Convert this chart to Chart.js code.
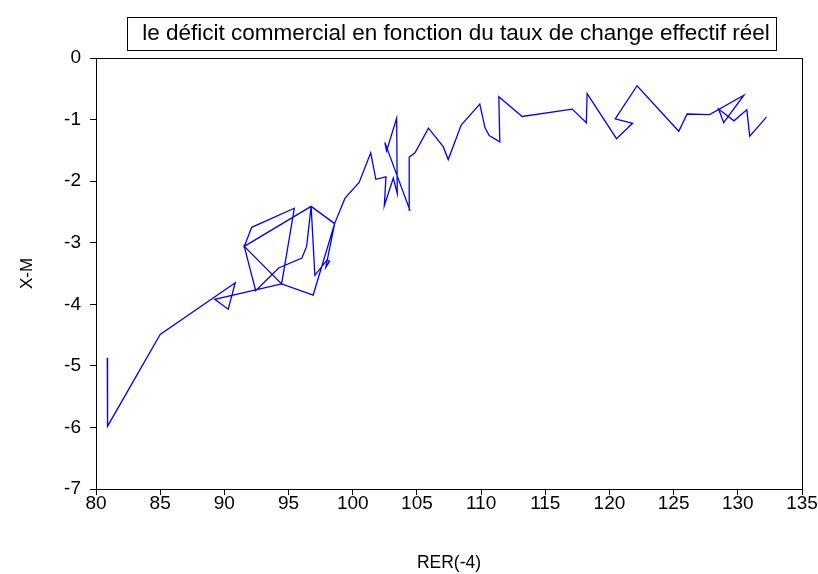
<!DOCTYPE html>
<html>
<head>
<meta charset="utf-8">
<script src="https://cdn.jsdelivr.net/npm/chart.js@4.4.0/dist/chart.umd.min.js"></script>
<style>
  body { margin: 0; background: #fff; }
  #wrap { width: 818px; height: 574px; }
</style>
</head>
<body>
<div id="wrap"><canvas id="chart" width="818" height="574"></canvas></div>
<script>
// RER(-4) values (x) and X-M values (y), in time order
const rer = [80.88, 80.9, 85.0, 90.85, 90.3, 89.25, 94.46, 96.92, 98.59, 96.76,
             91.55, 92.13, 95.45, 94.46, 91.55, 92.44, 94.23, 96.04, 96.41, 96.76,
             97.05, 98.0, 98.2, 97.9, 98.59, 99.39, 100.5, 101.4, 101.8, 102.59,
             102.46, 103.16, 103.47, 103.42, 102.64, 102.5, 104.45, 104.4, 104.85, 105.9,
             107.05, 107.44, 108.45, 109.9, 110.3, 110.63, 111.46, 111.38, 113.2, 117.1,
             118.2, 118.26, 120.55, 121.8, 120.45, 122.15, 125.4, 126.05, 127.8, 130.47,
             128.9, 128.5, 129.7, 130.7, 130.93, 132.23];
const xm = [-4.87, -5.98, -4.49, -3.65, -4.08, -3.92, -3.67, -3.85, -2.69, -2.41,
            -3.06, -2.75, -2.44, -3.67, -3.06, -3.78, -3.41, -3.25, -3.06, -2.41,
            -3.53, -3.28, -3.3, -3.4, -2.69, -2.28, -2.02, -1.54, -1.97, -1.93,
            -2.40, -1.95, -2.20, -0.98, -1.51, -1.37, -2.47, -1.61, -1.54, -1.14,
            -1.44, -1.65, -1.09, -0.75, -1.13, -1.26, -1.36, -0.63, -0.95, -0.83,
            -1.05, -0.58, -1.31, -1.06, -0.99, -0.45, -1.19, -0.91, -0.92, -0.605,
            -1.05, -0.83, -1.02, -0.84, -1.27, -0.96];

const xTicks = { min: 80, max: 135, step: 5 };
const yTicks = { min: -7, max: 0, step: 1 };
const titleText = 'le déficit commercial en fonction du taux de change effectif réel';
const xTitle = 'RER(-4)';
const yTitle = 'X-M';

const points = rer.map((v, i) => ({ x: v, y: xm[i] }));
const fontFam = '"Liberation Sans", Arial, sans-serif';

const framePlugin = {
    id: 'frame',
    afterDraw(chart) {
        const a = chart.chartArea;
        const ctx = chart.ctx;
        ctx.save();
        ctx.strokeStyle = '#000';
        ctx.lineWidth = 1;
        ctx.strokeRect(Math.round(a.left) + 0.5, Math.round(a.top) + 0.5,
                       Math.round(a.right - a.left), Math.round(a.bottom - a.top));
        // boxed title
        ctx.fillStyle = '#fff';
        ctx.fillRect(127.5, 17.5, 649, 33);
        ctx.strokeRect(127.5, 17.5, 649, 33);
        ctx.fillStyle = '#000';
        ctx.font = '22.5px ' + fontFam;
        ctx.textAlign = 'center';
        ctx.textBaseline = 'middle';
        ctx.fillText(titleText, 456, 34);
        ctx.restore();
    }
};

new Chart(document.getElementById('chart').getContext('2d'), {
    type: 'scatter',
    data: {
        datasets: [{
            data: points,
            showLine: true,
            borderColor: '#0000ff',
            borderWidth: 1.3,
            pointRadius: 0,
            tension: 0
        }]
    },
    options: {
        responsive: false,
        animation: false,
        layout: { padding: { top: 58, right: 16, left: 0, bottom: 0 } },
        plugins: { legend: { display: false }, tooltip: { enabled: false } },
        scales: {
            x: {
                type: 'linear',
                min: xTicks.min, max: xTicks.max,
                afterFit: s => { s.height = 85; },
                ticks: { stepSize: xTicks.step, color: '#000', maxRotation: 0, padding: -1,
                         font: { family: fontFam, size: 19, lineHeight: 1 } },
                grid: { drawOnChartArea: false, drawTicks: true, tickLength: 6, color: '#000' },
                border: { color: '#000' },
                title: { display: true, text: xTitle, color: '#000',
                         font: { family: fontFam, size: 17.5 }, padding: { top: 0, bottom: 0 } }
            },
            y: {
                type: 'linear',
                min: yTicks.min, max: yTicks.max,
                afterFit: s => { s.width = 96; },
                ticks: { stepSize: yTicks.step, color: '#000', padding: 9,
                         font: { family: fontFam, size: 19, lineHeight: 1 },
                         callback: v => String(v) },
                grid: { drawOnChartArea: false, drawTicks: true, tickLength: 6, color: '#000' },
                border: { color: '#000' },
                title: { display: true, text: yTitle, color: '#000',
                         font: { family: fontFam, size: 17 }, padding: { top: 17, bottom: 0 } }
            }
        }
    },
    plugins: [framePlugin]
});
</script>
</body>
</html>
